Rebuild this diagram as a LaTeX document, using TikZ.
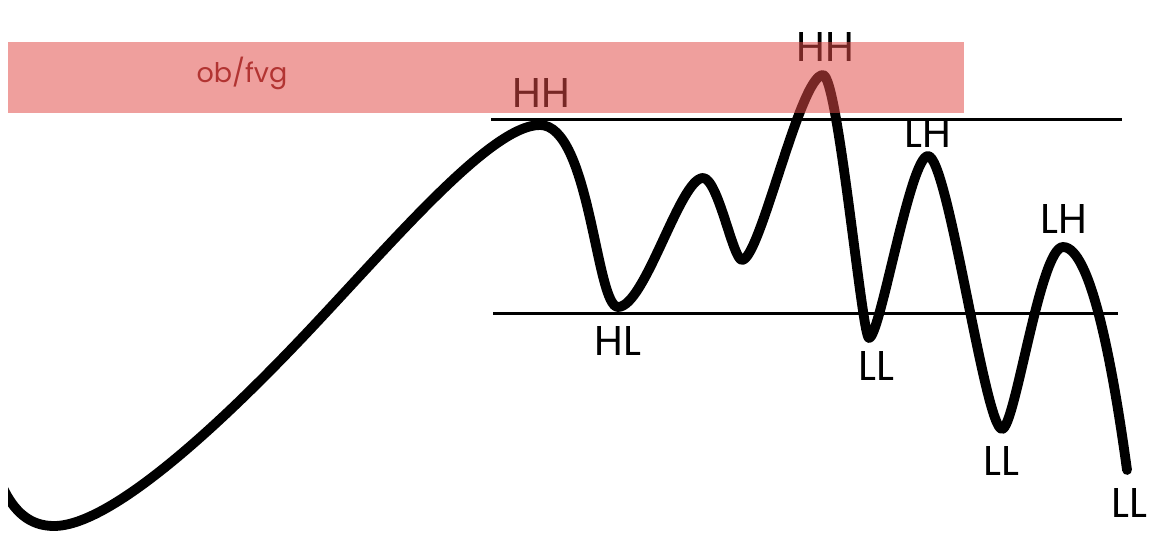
\documentclass[tikz,border=0pt]{standalone}
\usepackage{fontspec}
\setmainfont{Poppins}
\definecolor{bandred}{RGB}{225,75,71}
\definecolor{textred}{RGB}{178,52,50}
\begin{document}
\begin{tikzpicture}[x=1pt,y=-1pt,
  lbl/.style={anchor=base, inner sep=0pt, font=\fontsize{41.6}{48}\selectfont},
  price/.style={line width=9.8pt, line cap=round, line join=round},
  level/.style={line width=3.8pt},
  zone/.style={fill=bandred, fill opacity=0.53}]
\fill[white] (0,0) rectangle (1158,556);
\useasboundingbox (0,0) rectangle (1158,556);

% extrema of the price path
\coordinate (s)  at (2,486);
\coordinate (m0) at (54,526);
\coordinate (i0) at (300,340);
\coordinate (p1) at (540,125);
\coordinate (m1) at (618,307);
\coordinate (p2) at (703,178);
\coordinate (m2) at (742,260);
\coordinate (p3) at (823,75);
\coordinate (m3) at (869,338);
\coordinate (p4) at (928,156);
\coordinate (m4) at (1002,429);
\coordinate (p5) at (1063,247);
\coordinate (e)  at (1127,470);

\begin{scope}
\clip (8,0) rectangle (1158,556);
\draw[price] (s) .. controls (14,512) and (30,526) .. (m0)
  .. controls (114,526) and (230,413.5) .. (i0)
  .. controls (390,245.5) and (490,125) .. (p1)
  .. controls (590,125) and (596,307) .. (m1)
  .. controls (645,307) and (680,178) .. (p2)
  .. controls (718,178) and (733,260) .. (m2)
  .. controls (760,260) and (800,75) .. (p3)
  .. controls (838,75) and (862,338) .. (m3)
  .. controls (880,338) and (910,156) .. (p4)
  .. controls (948,156) and (985,429) .. (m4)
  .. controls (1015,429) and (1040,247) .. (p5)
  .. controls (1090,247) and (1112,360) .. (e);
\end{scope}

% levels
\coordinate (t1) at (491,119.5);
\coordinate (t2) at (1122,119.5);
\coordinate (b1) at (493,313.5);
\coordinate (b2) at (1118,313.5);
\draw[level] (t1) -- (t2);
\draw[level] (b1) -- (b2);

% labels
\node[lbl] (hh1) at (541,108) {HH};
\node[lbl] (hh2) at (825,62) {HH};
\node[lbl] (hl)  at (618,355) {HL};
\node[lbl] (ll1) at (876,380) {LL};
\node[lbl] (lh1) at (928,148) {LH};
\node[lbl] (ll2) at (1001.5,475) {LL};
\node[lbl] (lh2) at (1064,233) {LH};
\node[lbl] (ll3) at (1129,517) {LL};

% order block / fvg zone
\fill[zone] (8,42) rectangle (964,113);
\node[anchor=base, inner sep=0pt, text=textred, font=\fontsize{27}{32}\selectfont] (zl) at (242,83) {ob/fvg};
\end{tikzpicture}
\end{document}
